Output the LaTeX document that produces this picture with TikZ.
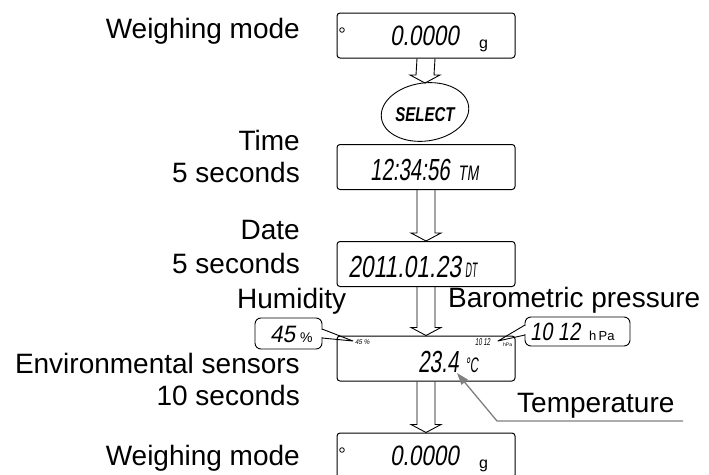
\documentclass[tikz,border=0pt]{standalone}
\usepackage{fontspec}
\setmainfont{Liberation Sans}
\newfontfamily\segfont{Liberation Sans}[FakeSlant=0.2]
\usepackage{graphicx}
\usetikzlibrary{calc,shapes.geometric,arrows.meta}
\newcommand\segtxt[3]{{\segfont\fontsize{#1}{#1}\selectfont\scalebox{#2}[1]{#3}}}
\newcommand\blockarrow[2]{\draw[blockarr] ($(#1)+(-9,0)$) -- ($(#2)+(-9,-8)$) -- ($(#2)+(-15,-8)$) -- (#2) -- ($(#2)+(15,-8)$) -- ($(#2)+(9,-8)$) -- ($(#1)+(9,0)$);}
\begin{document}
\begin{tikzpicture}[x=1pt,y=-1pt,
 lcd/.style={draw,line width=1pt,rounded corners=3pt,minimum width=178pt,minimum height=45pt,inner sep=0pt},
 lbl/.style={inner sep=0pt,font=\fontsize{28}{32}\selectfont},
 txt/.style={inner sep=0pt,anchor=base west},
 blockarr/.style={line width=0.9pt,line join=miter},
 callout/.style={draw,line width=0.9pt,rounded corners=6pt,inner sep=0pt},
 tail/.style={line width=0.9pt,line join=round},
 pointer/.style={draw=gray,line width=1.3pt,-{Triangle[length=12pt,width=8pt]}}]
\clip (0,0) rectangle (709,474);
% displays
\node[lcd] (w1) at (426,35.5) {};
\node[lcd] (tm) at (426,167) {};
\node[lcd] (dt) at (426,264) {};
\node[lcd] (env) at (426,358.5) {};
\node[lcd] (w2) at (426,455.5) {};
% select key
\node[draw,ellipse,line width=0.9pt,minimum width=88pt,minimum height=58pt,inner sep=0pt,rotate=8] (sel) at (425,112) {};
\node[inner sep=0pt] (seltxt) at (425,115) {\fontsize{20}{20}\selectfont\bfseries\itshape\scalebox{0.75}[1]{SELECT}};
\coordinate (selTop) at ($(sel.center)+(0,-29)$);
% block arrows
\blockarrow{w1.south}{selTop}
\blockarrow{tm.south}{dt.north}
\blockarrow{dt.south}{env.north}
\blockarrow{env.south}{w2.north}
% labels
\node[lbl,anchor=base east] (l1) at (300,38) {Weighing mode};
\node[lbl,anchor=base east] (l2a) at (300,150) {Time};
\node[lbl,anchor=base east] (l2b) at (300,182) {5 seconds};
\node[lbl,anchor=base east] (l3a) at (300,239) {Date};
\node[lbl,anchor=base east] (l3b) at (300,273) {5 seconds};
\node[lbl,anchor=base west] (lhum) at (237,308) {Humidity};
\node[lbl,anchor=base west] (lbar) at (448,307) {Barometric pressure};
\node[lbl,anchor=base east] (l4a) at (300,373) {Environmental sensors};
\node[lbl,anchor=base east] (l4b) at (300,405) {10 seconds};
\node[lbl,anchor=base west] (ltemp) at (517,412) {Temperature};
\node[lbl,anchor=base east] (l5) at (300,465) {Weighing mode};
% display contents
\draw[line width=0.8pt] (342,30) circle (2.3);
\node[txt] (w1v) at (390,45) {\segtxt{28}{0.8}{0.0000}};
\node[txt] (w1u) at (479,48) {\fontsize{16}{16}\selectfont g};
\node[txt] (tmv) at (370,180) {\segtxt{30.5}{0.67}{12:34:56}};
\node[txt] (tmu) at (458,180) {\segtxt{21}{0.67}{TM}};
\node[txt] (dtv) at (348,277) {\segtxt{30.5}{0.75}{2011.01.23}};
\node[txt] (dtu) at (465,277) {\segtxt{21}{0.42}{DT}};
\node[txt] (envv) at (418,372) {\segtxt{30.5}{0.68}{23.4}};
\node[txt] (envu) at (465,372) {\segtxt{21}{0.55}{°C}};
\node[txt] (envh) at (355,344) {\segtxt{7}{0.9}{45 \%}};
\node[txt] (envp) at (475,345) {\segtxt{10}{0.6}{10 12}};
\node[txt] (envpu) at (503,346) {\fontsize{5}{5}\selectfont hPa};
\draw[line width=0.8pt] (342,450) circle (2.3);
\node[txt] (w2v) at (390,465) {\segtxt{28}{0.8}{0.0000}};
\node[txt] (w2u) at (479,468) {\fontsize{16}{16}\selectfont g};
% humidity callout
\node[callout,minimum width=67pt,minimum height=31pt] (humbox) at (288.5,333.5) {};
\fill[white] (321,329.6) rectangle (323.5,337.4);
\coordinate (humA) at (322,329);
\coordinate (humB) at (322,338);
\coordinate (humTip) at (353,341);
\draw[tail] (humA) -- (humTip) -- (humB);
\node[txt] (humv) at (270,342) {\segtxt{23.7}{0.95}{45}};
\node[txt] (humu) at (300,342) {\fontsize{14}{14}\selectfont\%};
% pressure callout
\node[callout,minimum width=105pt,minimum height=29pt] (presbox) at (577.5,331.5) {};
\fill[white] (523.5,325.6) rectangle (526,334.4);
\coordinate (presA) at (525,325);
\coordinate (presB) at (525,335);
\coordinate (presTip) at (498,341);
\draw[tail] (presA) -- (presTip) -- (presB);
\node[txt] (presv) at (530,340) {\segtxt{25}{0.8}{10 12}};
\node[txt] (presu) at (589,340) {\fontsize{13}{13}\selectfont h\,Pa};
% temperature pointer
\coordinate (tEnd) at (683,421);
\coordinate (tKnee) at (497,421);
\coordinate (tTip) at (457,373);
\draw[pointer] (tEnd) -- (tKnee) -- (tTip);
\end{tikzpicture}
\end{document}
